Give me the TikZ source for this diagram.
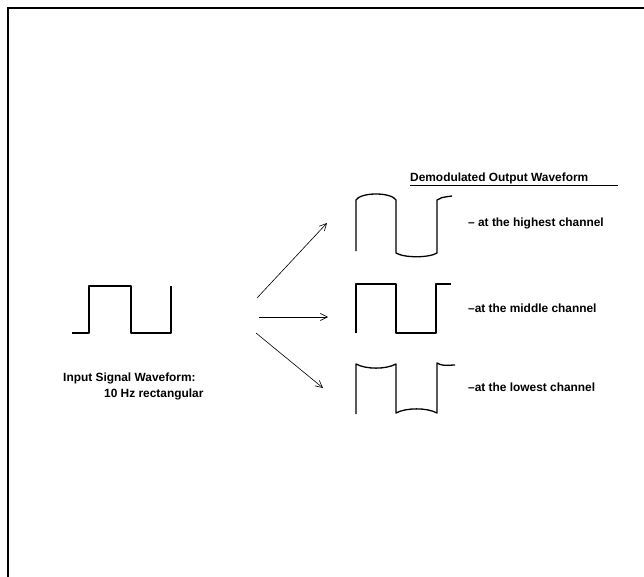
\documentclass[tikz,border=0pt]{standalone}
\usepackage{fontspec}
\setmainfont{Liberation Sans}
\usetikzlibrary{arrows.meta}

\begin{document}
\begin{tikzpicture}[x=1pt,y=-1pt]
\tikzstyle{every node}=[inner sep=0pt, anchor=base west, font=\fontsize{11.9}{13}\selectfont\bfseries]
\tikzstyle{wave}=[line width=1.3pt, line join=round]
\tikzstyle{arr}=[line width=.6pt, -{Straight Barb[length=7pt,width=7pt]}]
\useasboundingbox (0,0) rectangle (644,577);
\draw[line width=2pt] (8,577) -- (8,8) -- (644,8);
% input signal
\draw[wave] (72,333) -- (89,333) -- (89,286) -- (131,286) -- (131,333) -- (171,333) -- (171,286);
\node (inlabel) at (63,381) {Input Signal Waveform:};
\node (inrate) at (104,397) {10 Hz rectangular};
% arrows
\coordinate (a1) at (257,298);
\coordinate (b1) at (327,223);
\coordinate (a2) at (259,317);
\coordinate (b2) at (328,317);
\coordinate (a3) at (256,333);
\coordinate (b3) at (323,388);
\draw[arr] (a1) -- (b1);
\draw[arr] (a2) -- (b2);
\draw[arr] (a3) -- (b3);
% outputs
\node (outtitle) at (410,181.5) {Demodulated Output Waveform};
\draw[line width=1pt] (outtitle.base west) ++(0,4) -- (618,185.5);
\draw[wave] (356,251) -- (356,200) .. controls (358,196.5) and (366,194) .. (376,194)
  .. controls (386,194) and (394,196.5) .. (396,200) -- (396,253)
  .. controls (404,258) and (429,258) .. (437,253) -- (437,200)
  .. controls (441,197.5) .. (452,196);
\node (high) at (468,226) {\textendash\ at the highest channel};
\draw[wave] (356,333) -- (356,284) -- (396,284) -- (396,333) -- (436,333) -- (436,284) -- (451,284);
\node (mid) at (468,312) {\textendash at the middle channel};
\draw[wave] (356,414) -- (356,364) .. controls (366,369.5) and (386,369.5) .. (396,364) -- (396,413)
  .. controls (406,407.5) and (427,407.5) .. (437,413) -- (437,363)
  .. controls (442,365.5) .. (455,365);
\node (low) at (468,391) {\textendash at the lowest channel};
\end{tikzpicture}
\end{document}
